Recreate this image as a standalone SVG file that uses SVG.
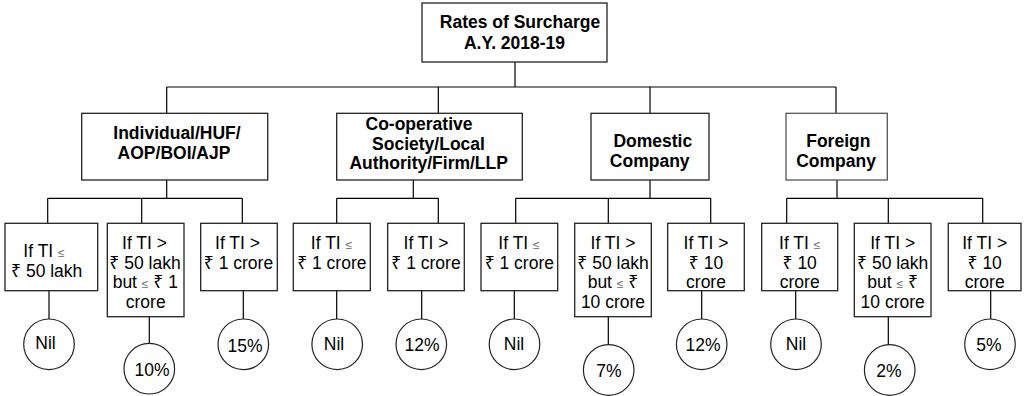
<svg xmlns="http://www.w3.org/2000/svg" width="1024" height="396" viewBox="0 0 1024 396">
<style>
.box{fill:#fff;stroke:#222;stroke-width:1.3}
.circ{fill:#fff;stroke:#222;stroke-width:1.2}
.ln{fill:none;stroke:#000;stroke-width:1.2}
.hb{font-family:"Liberation Sans",Arial,"Noto Sans",sans-serif;font-weight:bold;font-size:17.5px;fill:#000;text-anchor:middle}
.t{font-family:"Liberation Sans",Arial,"Noto Sans",sans-serif;font-size:17.5px;fill:#000;text-anchor:middle}
.le{font-size:12px;fill:#666}
</style>
<rect width="1024" height="396" fill="#fff"/>
<g id="connectors" class="ln">
<path d="M515 62V87M166.7 87H836M166.7 87V113.3M438.3 87V113.3M650 87V113.3M836 87V113.3"/>
<path d="M166.7 180V198.3M47.7 198.3H242.3M47.7 198.3V223.3M141.7 198.3V223.3M242.3 198.3V223.3"/>
<path d="M413.3 180V198.3M336.7 198.3H438.3M336.7 198.3V223.3M438.3 198.3V223.3"/>
<path d="M650 180V198.3M515.7 198.3H710.7M515.7 198.3V223.3M608.3 198.3V223.3M710.7 198.3V223.3"/>
<path d="M837 180V198.3M786.7 198.3H982.7M786.7 198.3V223.3M888.3 198.3V223.3M982.7 198.3V223.3"/>
<path d="M49 290.7V319M149.3 316.7V343.5M243.3 290.7V319M336.7 290.7V319M421.7 290.7V319M514.3 290.7V319M608.3 316.7V345M701.7 290.7V319M795.7 290.7V319M888.3 316.7V345M990.7 290.7V319"/>
</g>
<g id="root">
<rect class="box" x="422" y="3" width="185" height="59"/>
<text class="hb" x="520" y="27.5">Rates of Surcharge</text>
<text class="hb" x="514.5" y="48.5">A.Y. 2018-19</text>
</g>
<g id="individual">
<rect class="box" x="81.7" y="113.3" width="186" height="66.7"/>
<text class="hb" x="177" y="139.3">Individual/HUF/</text>
<text class="hb" x="174" y="159">AOP/BOI/AJP</text>
</g>
<g id="cooperative">
<rect class="box" x="336.7" y="113.3" width="185.6" height="66.7"/>
<text class="hb" x="419" y="130">Co-operative</text>
<text class="hb" x="428.5" y="149.5">Society/Local</text>
<text class="hb" x="428.7" y="169">Authority/Firm/LLP</text>
</g>
<g id="domestic">
<rect class="box" x="591" y="113.3" width="118" height="66.7"/>
<text class="hb" x="652.8" y="147.3">Domestic</text>
<text class="hb" x="649.7" y="167.3">Company</text>
</g>
<g id="foreign">
<rect class="box" x="786" y="113.3" width="101.3" height="66.7" style="stroke:#555"/>
<text class="hb" x="838.3" y="147.3">Foreign</text>
<text class="hb" x="836" y="167.3">Company</text>
</g>
<g id="ind-1">
<rect class="box" x="5" y="223.3" width="92.7" height="67.4"/>
<text class="t" x="44" y="256.7">If TI <tspan class="le">≤</tspan></text>
<text class="t" x="46.7" y="277.3">₹ 50 lakh</text>
</g>
<g id="ind-2">
<rect class="box" x="107.3" y="223.3" width="76.7" height="93.4"/>
<text class="t" x="144.5" y="249.3">If TI &gt;</text>
<text class="t" x="145" y="268.8">₹ 50 lakh</text>
<text class="t" x="145.3" y="288.3">but <tspan class="le">≤</tspan> ₹ 1</text>
<text class="t" x="145.7" y="307.5">crore</text>
</g>
<g id="ind-3">
<rect class="box" x="200.7" y="223.3" width="76.6" height="67.4"/>
<text class="t" x="237.5" y="249.3">If TI &gt;</text>
<text class="t" x="238.5" y="269">₹ 1 crore</text>
</g>
<g id="coop-1">
<rect class="box" x="293.3" y="223.3" width="77" height="67.4"/>
<text class="t" x="331.5" y="249.3">If TI <tspan class="le">≤</tspan></text>
<text class="t" x="331.8" y="269">₹ 1 crore</text>
</g>
<g id="coop-2">
<rect class="box" x="387.7" y="223.3" width="76.6" height="67.4"/>
<text class="t" x="426" y="249.3">If TI &gt;</text>
<text class="t" x="426" y="269">₹ 1 crore</text>
</g>
<g id="dom-1">
<rect class="box" x="481" y="223.3" width="76.7" height="67.4"/>
<text class="t" x="519" y="249.3">If TI <tspan class="le">≤</tspan></text>
<text class="t" x="519.3" y="269">₹ 1 crore</text>
</g>
<g id="dom-2">
<rect class="box" x="574.7" y="223.3" width="76.6" height="93.4"/>
<text class="t" x="613" y="249.3">If TI &gt;</text>
<text class="t" x="613" y="268.8">₹ 50 lakh</text>
<text class="t" x="613" y="288.3">but <tspan class="le">≤</tspan> ₹</text>
<text class="t" x="613" y="307.5">10 crore</text>
</g>
<g id="dom-3">
<rect class="box" x="667.7" y="223.3" width="76.6" height="67.4"/>
<text class="t" x="706" y="249.3">If TI &gt;</text>
<text class="t" x="706" y="269">₹ 10</text>
<text class="t" x="706" y="287.7">crore</text>
</g>
<g id="for-1">
<rect class="box" x="761.7" y="223.3" width="76" height="67.4"/>
<text class="t" x="799.7" y="249.3">If TI <tspan class="le">≤</tspan></text>
<text class="t" x="799.7" y="269">₹ 10</text>
<text class="t" x="799.7" y="287.7">crore</text>
</g>
<g id="for-2">
<rect class="box" x="854.3" y="223.3" width="76.7" height="93.4"/>
<text class="t" x="892.7" y="249.3">If TI &gt;</text>
<text class="t" x="892.7" y="268.8">₹ 50 lakh</text>
<text class="t" x="892.7" y="288.3">but <tspan class="le">≤</tspan> ₹</text>
<text class="t" x="892.7" y="307.5">10 crore</text>
</g>
<g id="for-3">
<rect class="box" x="948.3" y="223.3" width="72.7" height="67.4"/>
<text class="t" x="984.7" y="249.3">If TI &gt;</text>
<text class="t" x="984.7" y="269">₹ 10</text>
<text class="t" x="984.7" y="287.7">crore</text>
</g>
<g id="r1"><circle class="circ" cx="49" cy="344.3" r="25.3"/><text class="t" x="45.5" y="348.5">Nil</text></g>
<g id="r2"><circle class="circ" cx="149.3" cy="368.7" r="25.3"/><text class="t" x="152" y="376">10%</text></g>
<g id="r3"><circle class="circ" cx="243.3" cy="344.3" r="25.3"/><text class="t" x="245" y="351.5">15%</text></g>
<g id="r4"><circle class="circ" cx="337.2" cy="344.3" r="25.3"/><text class="t" x="334" y="350">Nil</text></g>
<g id="r5"><circle class="circ" cx="421.3" cy="344.3" r="25.3"/><text class="t" x="422" y="351">12%</text></g>
<g id="r6"><circle class="circ" cx="514.5" cy="344.3" r="25.3"/><text class="t" x="514" y="350">Nil</text></g>
<g id="r7"><circle class="circ" cx="608.7" cy="370" r="25.3"/><text class="t" x="609" y="376.5">7%</text></g>
<g id="r8"><circle class="circ" cx="701.7" cy="344.3" r="25.3"/><text class="t" x="703" y="351">12%</text></g>
<g id="r9"><circle class="circ" cx="796" cy="344.3" r="25.3"/><text class="t" x="796" y="350">Nil</text></g>
<g id="r10"><circle class="circ" cx="889.7" cy="370" r="25.3"/><text class="t" x="889" y="376.5">2%</text></g>
<g id="r11"><circle class="circ" cx="990" cy="344.3" r="25.3"/><text class="t" x="989" y="351">5%</text></g>
</svg>
